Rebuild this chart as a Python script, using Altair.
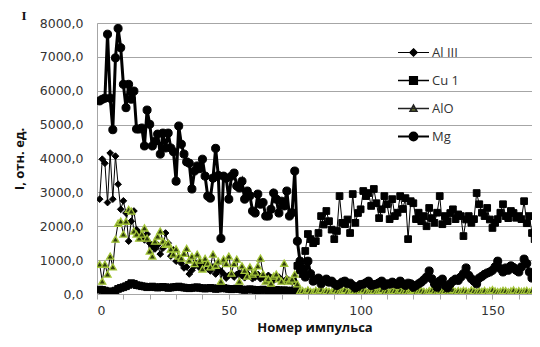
import altair as alt
import pandas as pd

series_names = ["Al III", "Cu 1", "AlO", "Mg"]

mg = [5700, 5750, 5780, 7670, 5780, 4850, 6970, 7840, 7270, 6190,
      5500, 6190, 5750, 5990, 4870, 4870, 4900, 4370, 5430, 5010,
      4370, 4510, 4720, 4130, 4750, 4310, 4750, 4310, 4200, 3330,
      4960, 4420, 4130, 3900, 3860, 3100, 3630, 3780, 3700, 3980,
      3480, 2890, 2830, 3420, 4300, 3500, 1640, 3480, 3420, 2800,
      3480, 3570, 3190, 3130, 3330, 2800, 3040, 2900, 2450, 2390,
      2950, 2650, 2700, 2300, 2300, 2500, 2980, 2800, 2390, 2740,
      2600, 3040, 2300, 2400, 3630, 1560, 970,
      770, 500, 970, 600, 380, 420, 470, 300, 380, 440,
      350, 380, 300, 250, 290, 350, 380, 300, 320, 250,
      180, 220, 280, 290, 330, 380, 250, 280, 290, 330,
      380, 250, 300, 290, 350, 300, 280, 380, 300, 250,
      320, 300, 200, 250, 300, 350, 420, 500, 680, 450,
      300, 200, 380, 440, 250, 180, 300, 380, 440, 400,
      500, 600, 770, 550, 450, 380, 300, 470, 520, 580,
      620, 650, 700, 800, 970, 750, 650, 770, 700, 830,
      780, 700, 650, 800, 1030, 900, 650, 470, 620, 550]

cu = [130, 120, 100, 60, 80, 60, 100, 150, 180, 200,
      230, 270, 320, 300, 260, 250, 230, 220, 200, 210,
      220, 200, 190, 200, 210, 200, 180, 190, 200, 210,
      220, 200, 190, 180, 170, 180, 190, 200, 180, 170,
      160, 170, 180, 170, 150, 160, 170, 180, 160, 150,
      140, 150, 160, 150, 130, 120, 130, 140, 130, 120,
      110, 120, 130, 120, 110, 100, 110, 120, 110, 100,
      110, 100, 90, 100, 110,
      830, 700, 590, 1270, 1770, 1620, 1500, 1560, 1800, 2300,
      2050, 2450, 2150, 1900, 1620, 1860, 2890, 2100, 2060, 2200,
      1800, 2950, 2100, 2390, 2500, 3040, 2890, 2980, 2600, 3100,
      2680, 2240, 2500, 2890, 2650, 2210, 2800, 2300, 2400, 2890,
      2510, 2830, 1620, 2740, 2680, 2210, 2400, 2150, 2300, 2000,
      2540, 2240, 2100, 2400, 2890, 2060, 2300, 2150, 2390, 2500,
      2210, 2350, 2300, 1710, 2200, 2300, 2100, 2210, 2980, 2650,
      2400, 2300, 2540, 2200, 1950, 2100, 2210, 2400, 2650, 2300,
      2240, 2450, 2390, 2250, 2300, 2210, 2740, 2090, 2300, 1800,
      1620, 2000]

al3 = [2800, 3980, 3860, 2700, 4160, 2800, 4070, 3240, 2500, 2750,
       2390, 1560, 2150, 2450, 1900, 1800, 1750, 1600, 1770, 1500,
       1400, 1330, 1450, 1180, 1350, 1800, 1500, 1120, 1300, 970,
       1050, 900, 770, 800, 590, 700, 830, 900, 770, 850,
       880, 750, 680, 800, 590, 700, 680, 600, 470, 550,
       600, 500, 580, 620, 550, 480, 600, 530, 450, 500,
       580, 450, 500, 420, 550, 480, 400, 450, 500, 420,
       380, 450, 400, 350, 380, 200, 80,
       40, 60, 30, 50, 40, 20, 50, 60, 40, 30,
       50, 40, 30, 60, 40, 50, 30, 40, 60, 30,
       40, 50, 30, 40, 60, 50, 30, 40, 50, 40,
       30, 60, 40, 50, 30, 40, 50, 60, 40, 30,
       50, 40, 60, 30, 40, 50, 40, 30, 60, 50,
       40, 30, 50, 40, 60, 30, 40, 50, 40, 30,
       50, 60, 40, 30, 50, 40, 60, 50, 30, 40,
       50, 40, 30, 60, 40, 50, 30, 40, 50, 60,
       40, 30, 50, 40, 60, 30, 40, 50, 40, 30]

alo = [880, 380, 880, 590, 1120, 800, 1620, 2090, 2150, 1770,
       2150, 2500, 2450, 1860, 1770, 1650, 1770, 1950, 1650, 1270,
       1120, 1560, 1710, 1860, 1560, 1470, 1500, 1330, 1180, 1330,
       1120, 1060, 1200, 1350, 1000, 1120, 900, 1180, 1000, 740,
       1050, 910, 800, 1180, 850, 970, 380, 1030, 900, 1120,
       620, 900, 1030, 380, 830, 700, 530, 800, 590, 650,
       830, 1060, 600, 380, 450, 320, 530, 590, 450, 380,
       910, 450, 380, 440, 590, 300, 90,
       100, 70, 120, 80, 60, 110, 90, 130, 70, 100,
       80, 60, 120, 90, 70, 100, 130, 80, 60, 110,
       90, 70, 100, 120, 80, 60, 90, 110, 70, 100,
       130, 80, 90, 60, 110, 100, 70, 120, 80, 90,
       60, 100, 130, 70, 90, 110, 80, 60, 100, 120,
       90, 70, 110, 80, 100, 60, 90, 130, 70, 100,
       80, 110, 90, 60, 120, 100, 70, 90, 80, 110,
       60, 100, 130, 90, 70, 80, 110, 100, 60, 90,
       120, 70, 100, 80, 90, 110, 60, 100, 80, 70]

x_tick_values = [0, 10, 20, 30, 40, 50, 60, 70, 80, 90, 100, 110, 120, 130, 140, 150, 160]
y_tick_values = [0, 1000, 2000, 3000, 4000, 5000, 6000, 7000, 8000]

n = len(mg)
x_vals = list(range(1, n + 1))
values = {"Al III": al3, "Cu 1": cu, "AlO": alo, "Mg": mg}
rows = []
for name in series_names:
    for xv, v in zip(x_vals, values[name]):
        rows.append({"x": xv, "v": v, "s": name})
df = pd.DataFrame(rows)

GRID = "#a6a6a6"
TXT = "#333333"

x_enc = alt.X("x:Q",
              scale=alt.Scale(domain=[0, 165], nice=False, zero=False),
              axis=alt.Axis(values=x_tick_values,
                            labelExpr="datum.value % 50 == 0 ? datum.label : ''",
                            title="Номер импульса", grid=False,
                            tickSize=5, tickColor=GRID, domainColor=GRID,
                            labelFont="DejaVu Sans", labelFontSize=12.5, labelColor=TXT,
                            labelPadding=5, titleFont="Open Sans", titleFontSize=13,
                            titleFontWeight="bold", titleColor="#111",
                            titleY=37, titleBaseline="alphabetic"))
y_enc = alt.Y("v:Q",
              scale=alt.Scale(domain=[0, 8000], nice=False),
              axis=alt.Axis(values=y_tick_values,
                            labelExpr="replace(format(datum.value, '.1f'), '.', ',')",
                            title="I, отн. ед.", grid=True, gridColor=GRID,
                            tickSize=0, domainColor=GRID,
                            labelFont="DejaVu Sans", labelFontSize=12.5, labelColor=TXT,
                            labelPadding=14, titleFont="Open Sans", titleFontSize=13,
                            titleFontWeight="bold", titleColor="#111",
                            titleX=-78, titleBaseline="middle"))

base = alt.Chart(df)

styles = {
    "Al III": dict(lw=1.0, shape="diamond", size=45, fill="black", stroke="black", sw=1),
    "Cu 1": dict(lw=1.0, shape="square", size=45, fill="black", stroke="black", sw=1),
    "AlO": dict(lw=1.0, shape="triangle-up", size=50, fill="#2f3c0f", stroke="#a4c639", sw=1.3),
    "Mg": dict(lw=3.0, shape="circle", size=65, fill="black", stroke="black", sw=1),
}

layers = []
for name in series_names:
    st = styles[name]
    sub = base.transform_filter(alt.datum.s == name)
    layers.append(sub.mark_line(color="black", strokeWidth=st["lw"], clip=True).encode(x=x_enc, y=y_enc))
    layers.append(sub.mark_point(shape=st["shape"], size=st["size"], filled=True,
                                 fill=st["fill"], stroke=st["stroke"], clip=True,
                                 strokeWidth=st["sw"], opacity=1).encode(x=x_enc, y=y_enc))

line_seg = "M-1,0H1"
legend_paths = [
    line_seg + "M0,-0.24L0.24,0L0,0.24L-0.24,0Z",
    line_seg + "M-0.25,-0.25H0.25V0.25H-0.25Z",
    line_seg + "M0,-0.22L0.22,0.18H-0.22Z",
    line_seg + "M-0.26,0A0.26,0.26 0 1,0 0.26,0A0.26,0.26 0 1,0 -0.26,0Z",
]
leg = alt.Legend(title=None, orient="none", legendX=300, legendY=13,
                 labelFont="Open Sans", labelFontSize=13, labelColor=TXT,
                 symbolSize=961, rowPadding=4, labelOffset=2, padding=0)
legend_layer = base.transform_filter("datum.v < -100000").mark_point(filled=True, opacity=1).encode(
    x=x_enc, y=y_enc,
    shape=alt.Shape("s:N", scale=alt.Scale(domain=series_names, range=legend_paths), legend=leg),
    fill=alt.Fill("s:N", scale=alt.Scale(domain=series_names,
                                         range=["black", "black", "#6b7d2a", "black"]), legend=leg),
    stroke=alt.Stroke("s:N", scale=alt.Scale(domain=series_names,
                                             range=["black", "black", "#222222", "black"]), legend=leg),
    strokeWidth=alt.StrokeWidth("s:N", scale=alt.Scale(domain=series_names,
                                                       range=[1.2, 1.8, 1.0, 3.0]), legend=leg),
)
layers.append(legend_layer)

corner = alt.Chart(pd.DataFrame({"t": ["I"]})).mark_text(
    font="Liberation Serif", fontSize=13, fontWeight="bold", color="#111",
    align="center", baseline="alphabetic").encode(
    text="t:N", x=alt.value(-73), y=alt.value(-3))
layers.append(corner)

chart = alt.layer(*layers).properties(
    width=435, height=271,
    autosize=alt.AutoSizeParams(type="none"),
    padding={"left": 89, "top": 15, "right": 0, "bottom": 41},
).configure_view(strokeWidth=0).configure(background="white")

chart.save("out.html", embed_options={"renderer": "svg", "actions": False})
